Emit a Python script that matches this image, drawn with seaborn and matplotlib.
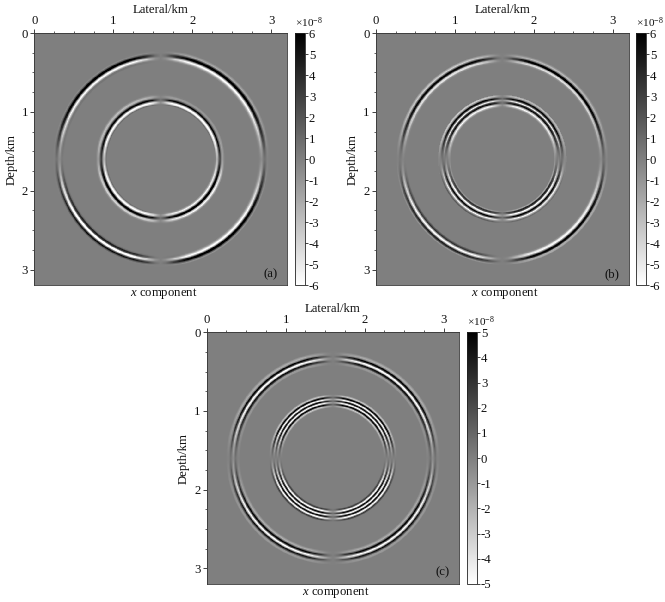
import numpy as np
import pandas as pd
import matplotlib
matplotlib.use("Agg")
import matplotlib.pyplot as plt
import seaborn as sns

sns.set_theme(style="white")
plt.rcParams["font.family"] = ["Liberation Serif", "DejaVu Serif"]
plt.rcParams["mathtext.fontset"] = "custom"
plt.rcParams["mathtext.rm"] = "Liberation Serif"
plt.rcParams["mathtext.it"] = "Liberation Serif:italic"

W, H = 665, 602
FS = 9.2
EXTENT_KM = 3.2
CENTER_KM = 1.6
N_CELLS = 800
BLEND_KM = 0.45

# Radial offsets (km) from a ring's nominal radius, negative = towards centre
OFFSETS = [-0.09, -0.075, -0.06, -0.045, -0.03, -0.015, 0, 0.015, 0.03, 0.045, 0.06, 0.075, 0.09]
OFFSETS_FINE = [-0.088, -0.066, -0.044, -0.022, 0, 0.022, 0.044, 0.066, 0.088]

# Envelope with angle away from the vertical (deg)
ENV_ANGLES = [0, 3, 8, 15, 30, 45, 60, 75, 85, 90]
ENV_OUTER = [0.0, 0.12, 0.55, 0.9, 1.0, 1.0, 0.9, 0.55, 0.2, 0.08]
ENV_INNER = [0.1, 0.3, 0.8, 1.0, 1.0, 1.0, 1.0, 0.85, 0.55, 0.4]

# Panel (a) wavefield profiles, units of 1e-8
A_R_OUTER, A_R_INNER = 1.29, 0.735
A_OUTER_NW = [0, 0, 0.5, 0.5, -3, -7, -2, 6, 7, 2, -0.5, 0, 0]
A_OUTER_NE = [0, 0, 0, -1, -4, -7, -2, 6, 7, 2, -2, -1, 0]
A_OUTER_SW = [0, 0, 1, 5, 3, -6, -7, 1, 6, 2, 0, 0, 0]
A_OUTER_SE = [0, 0, 0, -1, -4, -7, -2, 6, 7, 2, -1, 0, 0]
A_INNER_NW = [0, 0, 0, 1, -4, -7, 0, 7, 3, -2, -3, -1, 0]
A_INNER_NE = [0, 0, 0, 1, -5, -7, 0, 7, 2, -1, -1, 0, 0]
A_INNER_SW = [0, 0, 0, 1, -4, -7, -1, 7, 5, -3, -4, -1, 0]
A_INNER_SE = [0, 0, 0, -2, -6, -2, 6, 7, -3, -6, -2, 0, 0]

# Panel (b)
B_R_OUTER, B_R_INNER = 1.27, 0.725
B_OUTER_NW = [0, 0, 0, -1, -5, -4, 4, 7, 1, -4, -2, 0, 0]
B_OUTER_NE = [0, 0, 0, -1, -5, -3, 6, 7, 0, -3, -1, 0, 0]
B_OUTER_SW = [0, 0, 0, 2, 4, -2, -7, -2, 5, 3, -1, 0, 0]
B_OUTER_SE = [0, 0, 0, -1, -5, -6, 0, 7, 5, -2, -2, 0, 0]
B_INNER_NW = [0, 0, -2, -6, -2, 6, 3, -6, 2, 7, 0, -4, -1]
B_INNER_NE = [0, 0, -2, -6, -2, 6, 3, -6, 2, 7, 0, -3, -1]
B_INNER_SW = [0, 0, -1, 4, 2, -7, -2, 7, 1, -6, -1, 2, 0]
B_INNER_SE = [0, 0, -2, 5, 3, -7, -2, 7, 2, -6, -2, 1, 0]

# Panel (c)
C_R_OUTER, C_R_INNER = 1.265, 0.725
C_OUTER_NW = [0, -1, -1, 3, 5, -3, -6, 2, 6, 0, -2, -1, 0]
C_OUTER_NE = [0, -1, -1, 3, 5, -3, -6, 2, 6, 0, -2, -1, 0]
C_OUTER_SW = [0, -1, -2, 1, 6, 1, -6, -2, 5, 2, -1, -1, 0]
C_OUTER_SE = [0, -1, -2, 1, 6, 1, -6, -2, 5, 2, -1, -1, 0]
C_INNER_NW = [0, -3, 6, -6, 6, -6, 6, -3, 0]
C_INNER_NE = [0, -3, 6, -6, 6, -6, 6, -3, 0]
C_INNER_SW = [0, 3, -6, 6, -6, 6, -6, 3, 0]
C_INNER_SE = [0, 3, -6, 6, -6, 6, -6, 3, 0]

TICK_KM = [0, 1, 2, 3]
MINOR_KM = [0.25, 0.5, 0.75, 1.25, 1.5, 1.75, 2.25, 2.5, 2.75]
XLABEL = "Lateral/km"
YLABEL = "Depth/km"
CAPTION = r"$\mathit{x}$ component"
CB_A = [-6, -5, -4, -3, -2, -1, 0, 1, 2, 3, 4, 5, 6]
CB_C = [-5, -4, -3, -2, -1, 0, 1, 2, 3, 4, 5]

# pixel boxes: left, top, right, bottom
BOX_A, CBOX_A = (34.3, 33, 287.3, 285.3), (294.7, 33, 304.7, 285.3)
BOX_B, CBOX_B = (376, 33, 628.7, 285.3), (636, 33, 645.7, 285.3)
BOX_C, CBOX_C = (206.7, 332.3, 459.3, 584), (466.7, 332.3, 476.7, 584)


def smooth_weight(d):
    t = np.clip(0.5 + d / (2 * BLEND_KM), 0, 1)
    return t * t * (3 - 2 * t)


def field(rings):
    c = (np.arange(N_CELLS) + 0.5) * EXTENT_KM / N_CELLS - CENTER_KM
    dx, dy = np.meshgrid(c, c)
    r = np.hypot(dx, dy)
    ang = np.degrees(np.arctan2(np.abs(dx), np.abs(dy)))
    we = smooth_weight(dx)
    ws = smooth_weight(dy)
    z = np.zeros_like(r)
    for r0, env, offs, (nw, ne, sw, se) in rings:
        e = np.interp(ang, ENV_ANGLES, env)
        d = r - r0
        p = lambda q: np.interp(d, offs, q, left=0, right=0)
        z += e * ((1 - ws) * ((1 - we) * p(nw) + we * p(ne)) + ws * ((1 - we) * p(sw) + we * p(se)))
    return z


def axes_px(fig, box):
    l, t, r, b = box
    return fig.add_axes([l / W, 1 - b / H, (r - l) / W, (b - t) / H])


def panel(fig, box, cbox, z, cb_ticks, tag):
    ax = axes_px(fig, box)
    cax = axes_px(fig, cbox)
    lim = cb_ticks[-1]
    sns.heatmap(pd.DataFrame(z), ax=ax, cbar_ax=cax, cmap="gray_r", vmin=-lim, vmax=lim,
                xticklabels=False, yticklabels=False, square=False)
    scale = N_CELLS / EXTENT_KM
    ax.xaxis.tick_top()
    ax.xaxis.set_label_position("top")
    ax.set_xticks([k * scale for k in TICK_KM], [str(k) for k in TICK_KM])
    ax.set_yticks([k * scale for k in TICK_KM], [str(k) for k in TICK_KM], rotation=0)
    ax.set_xticks([k * scale for k in MINOR_KM], minor=True)
    ax.set_yticks([k * scale for k in MINOR_KM], minor=True)
    ax.tick_params(which="major", length=3, width=0.6, color="#222222", labelsize=FS,
                   labelcolor="#111111", pad=1.5, bottom=False, top=True, left=True)
    ax.tick_params(which="minor", length=1.6, width=0.5, color="#222222", bottom=False, top=True, left=True)
    ax.set_xlabel(XLABEL, fontsize=FS, color="#111111", labelpad=1.5)
    ax.set_ylabel(YLABEL, fontsize=FS, color="#111111", labelpad=3)
    for s in ax.spines.values():
        s.set_visible(True)
        s.set_linewidth(0.6)
        s.set_color("#333333")
    l, t, r, b = box
    fig.text(((l + r) / 2 + 2.5) / W, 1 - (b + 8) / H, CAPTION, fontsize=FS, color="#111111",
             ha="center", va="center")
    fig.text((r - 17) / W, 1 - (b - 11.5) / H, tag, fontsize=FS, color="#111111",
             ha="center", va="center")
    cb = ax.collections[0].colorbar
    cb.set_ticks(cb_ticks, labels=[str(v) for v in cb_ticks])
    cb.ax.tick_params(length=2, width=0.6, color="#222222", labelsize=FS, labelcolor="#111111", pad=1)
    cb.outline.set_visible(True)
    cb.outline.set_linewidth(0.6)
    cb.outline.set_edgecolor("#222222")
    cl, ct, _, _ = cbox
    fig.text((cl + 0.5) / W, 1 - (ct - 10.5) / H, "\u00d710$^{-8}$", fontsize=8.2, color="#111111",
             ha="left", va="center")


fig = plt.figure(figsize=(W / 100, H / 100), dpi=100, facecolor="white")

za = field([(A_R_OUTER, ENV_OUTER, OFFSETS, (A_OUTER_NW, A_OUTER_NE, A_OUTER_SW, A_OUTER_SE)),
            (A_R_INNER, ENV_INNER, OFFSETS, (A_INNER_NW, A_INNER_NE, A_INNER_SW, A_INNER_SE))])
zb = field([(B_R_OUTER, ENV_OUTER, OFFSETS, (B_OUTER_NW, B_OUTER_NE, B_OUTER_SW, B_OUTER_SE)),
            (B_R_INNER, ENV_INNER, OFFSETS, (B_INNER_NW, B_INNER_NE, B_INNER_SW, B_INNER_SE))])
zc = field([(C_R_OUTER, ENV_OUTER, OFFSETS, (C_OUTER_NW, C_OUTER_NE, C_OUTER_SW, C_OUTER_SE)),
            (C_R_INNER, ENV_INNER, OFFSETS_FINE, (C_INNER_NW, C_INNER_NE, C_INNER_SW, C_INNER_SE))])

panel(fig, BOX_A, CBOX_A, za, CB_A, "(a)")
panel(fig, BOX_B, CBOX_B, zb, CB_A, "(b)")
panel(fig, BOX_C, CBOX_C, zc, CB_C, "(c)")

fig.savefig("out.png", dpi=100)
